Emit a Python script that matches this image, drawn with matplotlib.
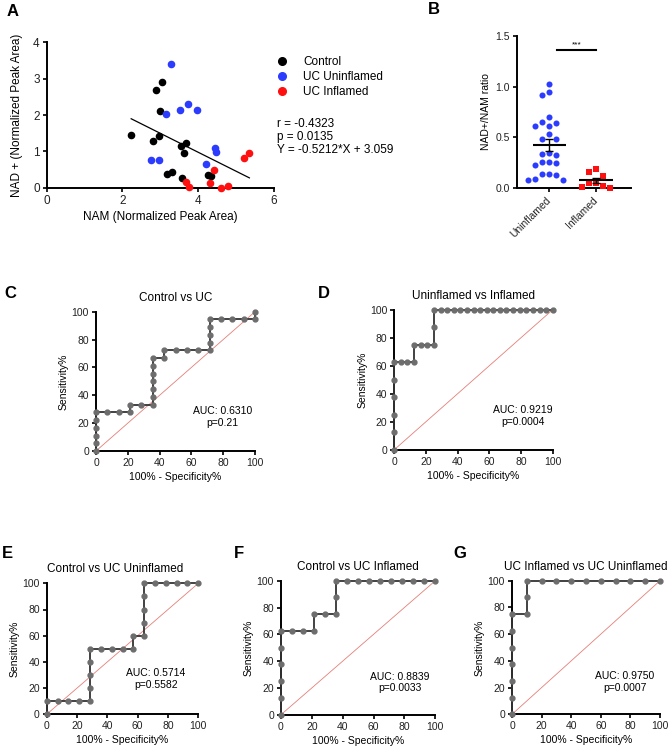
import numpy as np
import matplotlib
matplotlib.use('Agg')
import matplotlib.pyplot as plt
from matplotlib.lines import Line2D

plt.rcParams['font.family'] = ['Liberation Sans', 'DejaVu Sans']

# ---- panel A: NAD+ vs NAM ----
control_nam = [2.23, 2.89, 3.05, 2.99, 2.80, 2.97, 3.17, 3.32, 3.56, 3.54, 3.67, 3.63, 4.27, 4.34]
control_nad = [1.44, 2.70, 2.90, 2.11, 1.29, 1.42, 0.38, 0.44, 0.28, 1.15, 1.24, 0.96, 0.36, 0.33]
uninfl_nam = [3.28, 3.15, 3.53, 3.74, 3.98, 2.75, 2.97, 4.44, 4.47, 4.20]
uninfl_nad = [3.39, 2.04, 2.14, 2.29, 2.13, 0.75, 0.77, 1.09, 0.97, 0.65]
infl_nam = [3.68, 3.75, 4.41, 4.31, 4.60, 4.79, 5.21, 5.35]
infl_nad = [0.17, 0.03, 0.50, 0.14, 0.00, 0.05, 0.83, 0.96]
fit_r, fit_p = '-0.4323', '0.0135'
fit_slope, fit_intercept = -0.5212, 3.059

# ---- panel B: NAD+/NAM ratio ----
b_groups = ['Uninflamed', 'Inflamed']
uninflamed_ratio = [1.03, 0.95, 0.92, 0.70, 0.64, 0.65, 0.61, 0.61, 0.53, 0.48, 0.48,
                    0.32, 0.33, 0.34, 0.24, 0.25, 0.25, 0.22, 0.14, 0.13, 0.14, 0.08, 0.09, 0.08]
inflamed_ratio = [0.18, 0.16, 0.12, 0.01, 0.05, 0.05, 0.02, 0.00]

# ---- ROC curves (100% - specificity, sensitivity) ----
roc_c_x = [0, 0, 0, 0, 0, 0, 7.14, 14.29, 21.43, 21.43, 28.57, 35.71, 35.71, 35.71, 35.71, 35.71,
           35.71, 35.71, 42.86, 42.86, 50, 57.14, 64.29, 71.43, 71.43, 71.43, 71.43, 71.43,
           78.57, 85.71, 92.86, 100, 100]
roc_c_y = [0, 5.56, 11.11, 16.67, 22.22, 27.78, 27.78, 27.78, 27.78, 33.33, 33.33, 33.33, 38.89,
           44.44, 50, 55.56, 61.11, 66.67, 66.67, 72.22, 72.22, 72.22, 72.22, 72.22, 77.78,
           83.33, 88.89, 94.44, 94.44, 94.44, 94.44, 94.44, 100]
roc_d_x = [0, 0, 0, 0, 0, 0, 4.17, 8.33, 12.5, 12.5, 16.67, 20.83, 25, 25, 25, 29.17, 33.33,
           37.5, 41.67, 45.83, 50, 54.17, 58.33, 62.5, 66.67, 70.83, 75, 79.17, 83.33, 87.5,
           91.67, 95.83, 100]
roc_d_y = [0, 12.5, 25, 37.5, 50, 62.5, 62.5, 62.5, 62.5, 75, 75, 75, 75, 87.5, 100, 100, 100,
           100, 100, 100, 100, 100, 100, 100, 100, 100, 100, 100, 100, 100, 100, 100, 100]
roc_e_x = [0, 0, 7.14, 14.29, 21.43, 28.57, 28.57, 28.57, 28.57, 28.57, 35.71, 42.86, 50, 57.14,
           57.14, 64.29, 64.29, 64.29, 64.29, 64.29, 71.43, 78.57, 85.71, 92.86, 100]
roc_e_y = [0, 10, 10, 10, 10, 10, 20, 30, 40, 50, 50, 50, 50, 50, 60, 60, 70, 80, 90, 100,
           100, 100, 100, 100, 100]
roc_f_x = [0, 0, 0, 0, 0, 0, 7.14, 14.29, 21.43, 21.43, 28.57, 35.71, 35.71, 35.71, 42.86,
           50, 57.14, 64.29, 71.43, 78.57, 85.71, 92.86, 100]
roc_f_y = [0, 12.5, 25, 37.5, 50, 62.5, 62.5, 62.5, 62.5, 75, 75, 75, 87.5, 100, 100, 100,
           100, 100, 100, 100, 100, 100, 100]
roc_g_x = [0, 0, 0, 0, 0, 0, 0, 10, 10, 10, 20, 30, 40, 50, 60, 70, 80, 90, 100]
roc_g_y = [0, 12.5, 25, 37.5, 50, 62.5, 75, 75, 87.5, 100, 100, 100, 100, 100, 100, 100,
           100, 100, 100]

W, H = 669, 750
fig = plt.figure(figsize=(W / 100, H / 100), dpi=100)


def rect(left, top, right, bottom):
    # pixel box -> figure fraction
    return [left / W, 1 - bottom / H, (right - left) / W, (bottom - top) / H]


def style_axes(ax, lw=1.4):
    for s in ['top', 'right']:
        ax.spines[s].set_visible(False)
    for s in ['left', 'bottom']:
        ax.spines[s].set_linewidth(lw)
    ax.tick_params(width=lw, length=3, pad=2, colors='#222222')


# ---- A ----
axA = fig.add_axes(rect(46.7, 42.3, 274, 187.7))
ms = 20
axA.scatter(control_nam, control_nad, s=ms, color='black', clip_on=False, zorder=3)
axA.scatter(uninfl_nam, uninfl_nad, s=ms, color='#2b3cff', clip_on=False, zorder=3)
axA.scatter(infl_nam, infl_nad, s=ms, color='#ff1010', clip_on=False, zorder=3)
all_x = np.array(control_nam + uninfl_nam + infl_nam)
xx = np.array([all_x.min(), all_x.max()])
axA.plot(xx, fit_slope * xx + fit_intercept, color='black', lw=0.9)
axA.set_xlim(0, 6)
axA.set_ylim(0, 4)
axA.set_xticks([0, 2, 4, 6])
axA.set_yticks([0, 1, 2, 3, 4])
style_axes(axA)
axA.tick_params(labelsize=8.5)
axA.set_xlabel('NAM (Normalized Peak Area)', fontsize=8.5, labelpad=3)
axA.set_ylabel('NAD + (Normalized Peak Area)', fontsize=8.5, labelpad=7)
handles = [Line2D([], [], ls='none', marker='o', ms=5.5, color=c)
           for c in ['black', '#2b3cff', '#ff1010']]
axA.legend(handles, ['Control', 'UC Uninflamed', 'UC Inflamed'], loc='center left',
           bbox_to_anchor=(1.008, 0.761), frameon=False, fontsize=8.5, handlelength=1.0,
           handletextpad=1.3, labelspacing=0.25, borderpad=0, borderaxespad=0)
axA.text(1.0145, 0.349, f'r = {fit_r}\np = {fit_p}\nY = {fit_slope}*X + {fit_intercept}',
         transform=axA.transAxes, ha='left', va='center', fontsize=8.5, linespacing=1.15)

# ---- B ----
axB = fig.add_axes(rect(516.7, 36, 630.7, 187.7))
axB.set_xlim(-0.7, 1.75)
axB.set_ylim(0, 1.5)
pos = axB.get_position()
px_x = pos.width * W / (1.75 + 0.7)
px_y = pos.height * H / 1.5


def swarm(vals, step=7.0, dmin=7.0):
    # simple beeswarm in pixel space, returns offsets in data units
    order = np.argsort(vals)[::-1]
    placed = []
    offs = np.zeros(len(vals))
    for i in order:
        y = vals[i] * px_y
        cands = [0.0] + [s * step * j for j in range(1, 8) for s in (-1, 1)]
        for c in cands:
            if all(np.hypot(c - ox, y - oy) >= dmin for ox, oy in placed):
                break
        placed.append((c, y))
        offs[i] = c / px_x
    return offs


for i, (vals, col, mk) in enumerate([(uninflamed_ratio, '#2b3cff', 'o'),
                                      (inflamed_ratio, '#ff1010', 's')]):
    v = np.array(vals)
    axB.scatter(i + swarm(v), v, s=19, marker=mk, color=col, clip_on=False, zorder=3, lw=0)
    m = v.mean()
    sem = v.std(ddof=1) / np.sqrt(len(v))
    axB.hlines(m, i - 0.36, i + 0.36, color='black', lw=1.5, zorder=4)
    axB.errorbar(i, m, yerr=sem, color='black', lw=1.0, capsize=3, capthick=1.0, zorder=4)
axB.plot([0.16, 1.0], [1.365, 1.365], color='black', lw=1.5)
axB.text(0.58, 1.375, '***', ha='center', va='bottom', fontsize=6)
axB.set_xticks([0, 1])
axB.set_xticklabels(b_groups, rotation=45, ha='right', va='center', rotation_mode='anchor')
axB.set_yticks([0, 0.5, 1.0, 1.5])
axB.set_yticklabels(['0.0', '0.5', '1.0', '1.5'])
style_axes(axB)
axB.tick_params(labelsize=7.5)
axB.tick_params(axis='x', pad=5)
axB.set_ylabel('NAD+/NAM ratio', fontsize=7.5, labelpad=3)


# ---- ROC panels ----
def roc_panel(box, fx, fy, title, auc, p, txt_xy):
    ax = fig.add_axes(rect(*box))
    ax.plot([0, 100], [0, 100], color='#e57f78', lw=0.6, zorder=1)
    ax.plot(fx, fy, color='#333333', lw=1.3, marker='o', ms=3.5, mfc='#6d6d6d', mec='#6d6d6d',
            clip_on=False, zorder=3)
    ax.set_xlim(0, 100)
    ax.set_ylim(0, 100)
    ax.set_xticks(range(0, 101, 20))
    ax.set_yticks(range(0, 101, 20))
    style_axes(ax)
    ax.tick_params(labelsize=7.5)
    ax.set_title(title, fontsize=8.5, pad=8)
    ax.set_xlabel('100% - Specificity%', fontsize=7.5, labelpad=3)
    ax.set_ylabel('Sensitivity%', fontsize=7.5, labelpad=2)
    ax.text(txt_xy[0], txt_xy[1], f'AUC: {auc}\np={p}', ha='center', va='center',
            fontsize=7.5, linespacing=1.2)
    return ax


roc_panel((96, 311.7, 255, 451), roc_c_x, roc_c_y, 'Control vs UC', '0.6310', '0.21', (79.5, 24.3))
roc_panel((394.3, 309.7, 552.7, 449.7), roc_d_x, roc_d_y, 'Uninflamed vs Inflamed', '0.9219',
          '0.0004', (81, 24.2))
axE = roc_panel((46.7, 583.3, 198.3, 714.3), roc_e_x, roc_e_y, 'Control vs UC Uninflamed',
                '0.5714', '0.5582', (72, 27))
axE.title.set_x(0.45)
roc_panel((281, 580.7, 435.3, 714.7), roc_f_x, roc_f_y, 'Control vs UC Inflamed', '0.8839',
          '0.0033', (77, 24))
roc_panel((512, 580.7, 660, 714.3), roc_g_x, roc_g_y, 'UC Inflamed vs UC Uninflamed', '0.9750',
          '0.0007', (76, 24))

# panel letters
for letter, (x, y) in {'A': (12.5, 12), 'B': (434, 10), 'C': (10, 293), 'D': (324, 293),
                       'E': (7.5, 554), 'F': (239, 554), 'G': (460, 554)}.items():
    fig.text(x / W, 1 - y / H, letter, fontsize=12, fontweight='bold', ha='center', va='center')

fig.savefig('out.png', dpi=100)
